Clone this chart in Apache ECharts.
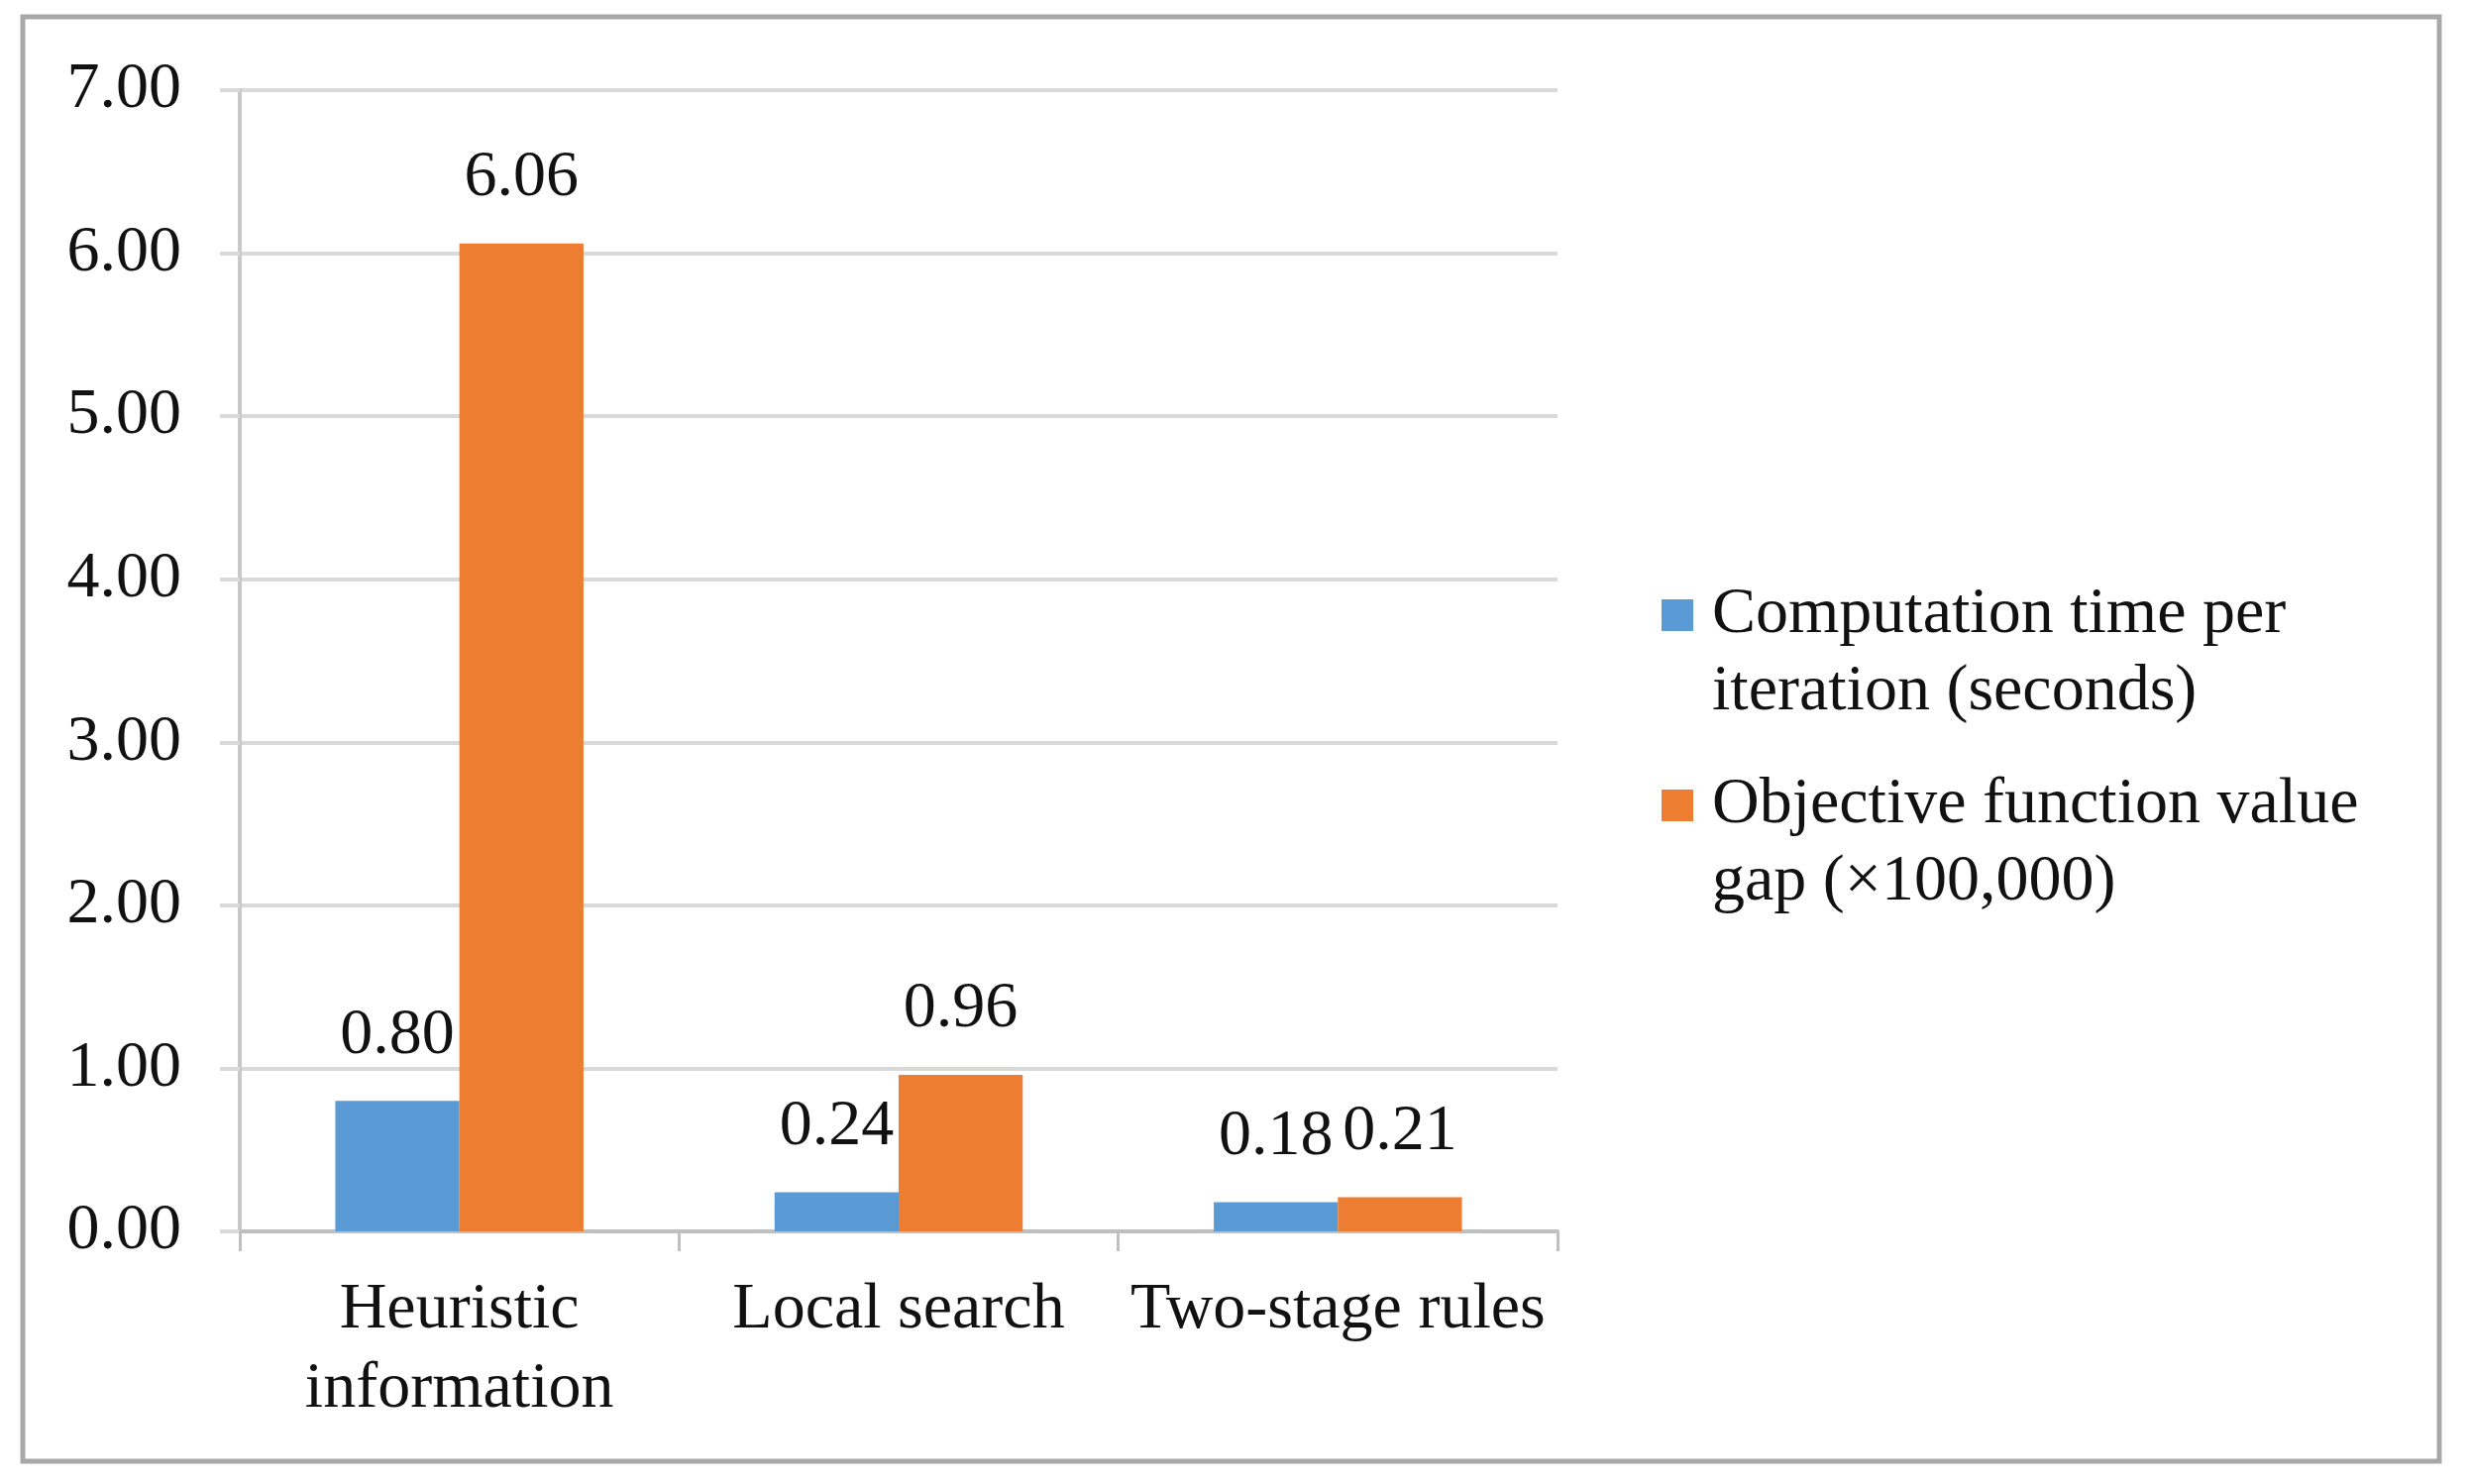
<!DOCTYPE html>
<html>
<head>
<meta charset="utf-8">
<script src="https://cdn.jsdelivr.net/npm/echarts@6/dist/echarts.min.js"></script>
<style>
html,body{margin:0;padding:0;background:#fff;}
#chart{width:2494px;height:1498px;}
</style>
</head>
<body>
<div id="chart"></div>
<script>
const categories = ['Heuristic\ninformation', 'Local search', 'Two-stage rules'];
const seriesNames = ['Computation time per\niteration (seconds)', 'Objective function value\ngap (×100,000)'];
const computationTime = [0.80, 0.24, 0.18];
const objectiveGap = [6.06, 0.96, 0.21];
const yTicks = [0, 1, 2, 3, 4, 5, 6, 7];

const FONT = 'Liberation Serif';
const chart = echarts.init(document.getElementById('chart'));

const labelStyle = {
  show: true,
  position: 'top',
  distance: 33,
  fontFamily: FONT,
  fontSize: 66,
  lineHeight: 66,
  color: '#111',
  formatter: p => p.value.toFixed(2)
};

const legendText = {
  fontFamily: FONT,
  fontSize: 66,
  lineHeight: 78,
  color: '#111',
  padding: [0, 0, 0, 14]
};

// square icon at the top of a taller item so it lines up with the first text line
const legendIcon = 'path://M0,0L32,0L32,32L0,32Z M0,110L0.01,110';

chart.setOption({
  animation: false,
  backgroundColor: '#fff',
  graphic: [{
    type: 'rect',
    shape: { x: 23, y: 17, width: 2439, height: 1458 },
    style: { fill: 'none', stroke: '#a8a8a8', lineWidth: 5 },
    silent: true,
    z: -1
  }],
  grid: { left: 242, right: 922, top: 91, bottom: 255 },
  legend: [
    {
      data: [seriesNames[0]], orient: 'vertical', left: 1677, top: 582, padding: 0,
      itemWidth: 32, itemHeight: 110, icon: legendIcon, textStyle: legendText
    },
    {
      data: [seriesNames[1]], orient: 'vertical', left: 1677, top: 774, padding: 0,
      itemWidth: 32, itemHeight: 110, icon: legendIcon, textStyle: legendText
    }
  ],
  xAxis: {
    type: 'category',
    data: categories,
    boundaryGap: true,
    axisLine: { show: true, lineStyle: { color: '#bfbfbf', width: 4 } },
    axisTick: { show: true, length: 20, alignWithLabel: false, lineStyle: { color: '#bfbfbf', width: 3 } },
    axisLabel: {
      margin: 40, fontFamily: FONT, fontSize: 66, lineHeight: 80, color: '#111', interval: 0
    },
    splitLine: { show: false }
  },
  yAxis: {
    type: 'value',
    min: yTicks[0],
    max: yTicks[yTicks.length - 1],
    interval: 1,
    axisLine: { show: true, lineStyle: { color: '#c8c8c8', width: 4 } },
    axisTick: { show: true, length: 20, lineStyle: { color: '#d9d9d9', width: 4 } },
    axisLabel: {
      margin: 59, fontFamily: FONT, fontSize: 66, color: '#111',
      formatter: v => v.toFixed(2)
    },
    splitLine: { show: true, lineStyle: { color: '#d9d9d9', width: 4 } }
  },
  series: [
    {
      name: seriesNames[0], type: 'bar', data: computationTime,
      itemStyle: { color: '#5b9bd5' },
      barGap: '0%', barCategoryGap: '43.5%',
      label: labelStyle
    },
    {
      name: seriesNames[1], type: 'bar', data: objectiveGap,
      itemStyle: { color: '#ed7d31' },
      barGap: '0%', barCategoryGap: '43.5%',
      label: labelStyle
    }
  ]
});
</script>
</body>
</html>
